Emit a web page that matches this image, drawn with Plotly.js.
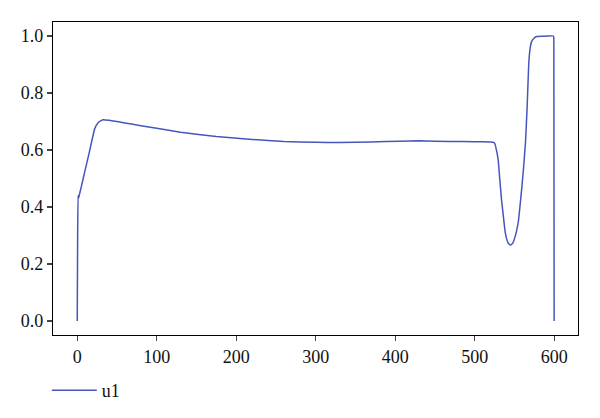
<!DOCTYPE html>
<html>
<head>
<meta charset="utf-8">
<script src="https://cdn.plot.ly/plotly-3.0.1.min.js"></script>
<style>html,body{margin:0;padding:0;background:#fff;}#chart{width:600px;height:418px;}</style>
</head>
<body>
<div id="chart"></div>
<script>
const seriesName = "u1";
const xValues = [0, 0.5, 1, 1.5, 2, 5, 10, 15, 22, 26, 30, 33, 40, 50, 60, 80, 100, 130, 175, 220, 260, 300, 330, 370, 406, 430, 470, 500, 520, 523, 525, 527, 529.6, 531.5, 533.8, 536, 538, 540, 542.5, 545, 547, 549, 551, 553, 555, 556, 558, 561, 564, 566, 568, 569.5, 571.6, 575, 578, 585, 592, 599, 599.6, 600];
const yValues = [0, 0.30, 0.44, 0.43, 0.435, 0.47, 0.53, 0.59, 0.675, 0.695, 0.703, 0.706, 0.704, 0.700, 0.695, 0.685, 0.676, 0.662, 0.647, 0.637, 0.630, 0.627, 0.626, 0.628, 0.631, 0.632, 0.630, 0.629, 0.628, 0.627, 0.624, 0.605, 0.565, 0.500, 0.425, 0.370, 0.320, 0.290, 0.272, 0.267, 0.270, 0.280, 0.297, 0.320, 0.350, 0.375, 0.430, 0.520, 0.630, 0.750, 0.900, 0.950, 0.980, 0.993, 0.998, 0.999, 1.000, 1.000, 0.990, 0];
const xTicks = [0, 100, 200, 300, 400, 500, 600];
const yTicks = [0.0, 0.2, 0.4, 0.6, 0.8, 1.0];
const yTickText = ["0.0", "0.2", "0.4", "0.6", "0.8", "1.0"];

const font = {family: "Liberation Serif, Times New Roman, serif", size: 18, color: "#111"};
Plotly.newPlot("chart", [{
  x: xValues, y: yValues, type: "scatter", mode: "lines", name: seriesName,
  line: {color: "#4657bb", width: 1.5, shape: "spline", smoothing: 0.3}
}], {
  width: 600, height: 418,
  margin: {l: 53, r: 22, t: 22, b: 83},
  paper_bgcolor: "#fff", plot_bgcolor: "#fff",
  font: font,
  showlegend: true,
  legend: {orientation: "h", xref: "container", x: 0.078, xanchor: "left", yref: "container", y: 0.11, yanchor: "top",
    itemwidth: 45, font: font, bgcolor: "rgba(0,0,0,0)"},
  xaxis: {range: [-30.5, 630], tickvals: xTicks, ticks: "outside", ticklen: 5, tickwidth: 1.2,
    showline: true, linecolor: "#000", linewidth: 1.2, mirror: true, showgrid: false, zeroline: false, tickfont: font},
  yaxis: {range: [-0.049, 1.049], tickvals: yTicks, ticktext: yTickText, ticks: "outside", ticklen: 5, tickwidth: 1.2,
    showline: true, linecolor: "#000", linewidth: 1.2, mirror: true, showgrid: false, zeroline: false, tickfont: font}
}, {displayModeBar: false, staticPlot: true});
</script>
</body>
</html>
